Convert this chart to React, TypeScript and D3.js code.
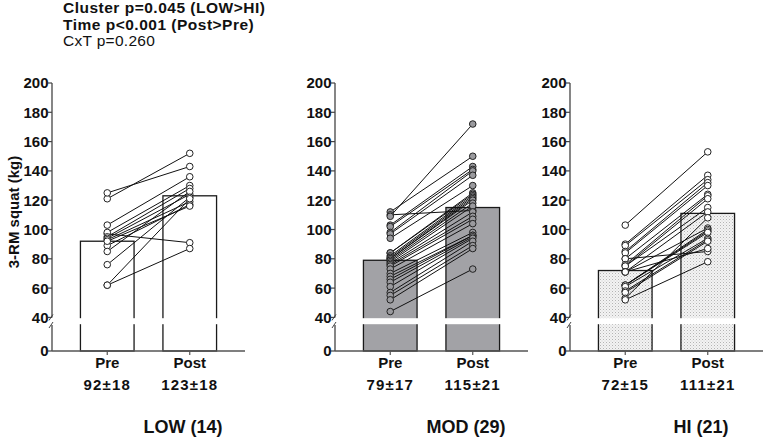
import React from "react";
import * as d3 from "d3";

const categories = ["Pre", "Post"];
const clusterLabels = ["LOW (14)", "MOD (29)", "HI (21)"];
const headerLines = ["Cluster p=0.045 (LOW>HI)", "Time p<0.001 (Post>Pre)", "CxT p=0.260"];
const yTicks = [200, 180, 160, 140, 120, 100, 80, 60, 40];

const meanPre = [92, 79, 72];
const meanPost = [123, 115, 111];
const sdPre = [18, 17, 15];
const sdPost = [18, 21, 21];

const lowPre = [121, 125, 103, 97, 98, 95, 94, 93, 89, 85, 76, 62, 62, 92];
const lowPost = [152, 143, 136, 91, 130, 128, 124, 119, 117, 126, 122, 87, 121, 116];

const modPre = [112, 110, 109, 103, 102, 98, 97, 94, 84, 84, 82, 81, 80, 80, 79, 78, 77, 76, 75, 73, 70, 68, 66, 64, 61, 57, 55, 52, 44];
const modPost = [150, 113, 172, 143, 141, 140, 137, 130, 125, 124, 123, 122, 121, 120, 118, 116, 112, 109, 107, 104, 98, 96, 96, 95, 94, 92, 89, 87, 73];

const hiPre = [103, 90, 89, 85, 84, 80, 80, 76, 75, 75, 71, 71, 71, 62, 62, 62, 61, 58, 57, 53, 52];
const hiPost = [153, 137, 134, 132, 130, 124, 85, 123, 121, 115, 112, 87, 101, 100, 99, 98, 94, 93, 92, 108, 78];

const preSets = [lowPre, modPre, hiPre];
const postSets = [lowPost, modPost, hiPost];

const FONT = "'Liberation Sans', Arial, Helvetica, sans-serif";
const axisX = [52, 335, 570];
const barFill = ["#ffffff", "#a2a2a6", "url(#dots)"];
const pointFill = ["#ffffff", "#9a9a9e", "#ffffff"];

export default function App() {
  const yUpper = d3.scaleLinear().domain([40, 200]).range([317.4, 83]);
  const yLower = d3.scaleLinear().domain([0, 20]).range([351, 325]);
  const xBand = d3
    .scaleBand()
    .domain(categories)
    .range([14, 179])
    .paddingInner(0.35)
    .paddingOuter(0.175);
  const bw = xBand.bandwidth();
  const axisLen = 193;

  return (
    <svg
      width={764}
      height={437}
      style={{ position: "absolute", left: 0, top: 0, background: "#fff" }}
      fontFamily={FONT}
    >
      <defs>
        <pattern id="dots" width={3} height={3} patternUnits="userSpaceOnUse">
          <rect width={3} height={3} fill="#f3f3f3" />
          <rect x={0} y={0} width={1} height={1} fill="#b4b4b4" />
          <rect x={1.5} y={1.5} width={1} height={1} fill="#cfcfcf" />
        </pattern>
      </defs>
      <rect width={764} height={437} fill="#fff" />

      {headerLines.map((t, i) => (
        <text
          key={t}
          x={63}
          y={13 + i * 16.5}
          fontSize={15.5}
          letterSpacing={i < 2 ? 0.5 : 0.3}
          fontWeight={i < 2 ? "bold" : "normal"}
          fill="#111"
        >
          {t}
        </text>
      ))}

      <text
        transform={`translate(19,212) rotate(-90)`}
        textAnchor="middle"
        fontSize={15}
        fontWeight="bold"
        fill="#111"
      >
        3-RM squat (kg)
      </text>

      {clusterLabels.map((label, p) => {
        const x0 = axisX[p];
        const means = [meanPre[p], meanPost[p]];
        const sds = [sdPre[p], sdPost[p]];
        const pre = preSets[p];
        const post = postSets[p];
        const xc = (c: string) => x0 + (xBand(c) as number) + bw / 2;
        const gapTop = yUpper(40);
        const gapBot = yLower(20);
        return (
          <g key={label}>
            {categories.map((c, i) => (
              <rect
                key={c}
                x={x0 + (xBand(c) as number)}
                y={yUpper(means[i])}
                width={bw}
                height={yLower(0) - yUpper(means[i])}
                fill={barFill[p]}
                stroke="#1a1a1a"
                strokeWidth={1.3}
              />
            ))}
            <rect x={x0 - 4} y={gapTop + 0.8} width={axisLen + 6} height={gapBot - gapTop - 1.6} fill="#fff" />
            <line x1={x0} x2={x0} y1={yUpper(200)} y2={gapTop} stroke="#444" strokeWidth={1.3} />
            <line x1={x0} x2={x0} y1={gapBot} y2={yLower(0)} stroke="#444" strokeWidth={1.3} />
            <line x1={x0 - 3} y1={gapTop + 3} x2={x0 + 1} y2={gapTop - 3} stroke="#444" strokeWidth={1} />
            <line x1={x0 - 3} y1={gapBot + 3} x2={x0 + 1} y2={gapBot - 3} stroke="#444" strokeWidth={1} />
            {yTicks.map((t) => (
              <g key={t}>
                <line x1={x0 - 4} x2={x0} y1={yUpper(t)} y2={yUpper(t)} stroke="#444" strokeWidth={1.2} />
                <text
                  x={x0 - 3.5}
                  y={yUpper(t)}
                  dy="0.36em"
                  textAnchor="end"
                  fontSize={15}
                  fontWeight="bold"
                  fill="#111"
                >
                  {t}
                </text>
              </g>
            ))}
            <line x1={x0 - 4} x2={x0} y1={yLower(0)} y2={yLower(0)} stroke="#444" strokeWidth={1.2} />
            <text x={x0 - 3.5} y={yLower(0)} dy="0.36em" textAnchor="end" fontSize={15} fontWeight="bold" fill="#111">
              0
            </text>
            <line x1={x0} x2={x0 + axisLen} y1={yLower(0)} y2={yLower(0)} stroke="#555" strokeWidth={1.5} />
            {categories.map((c, i) => (
              <g key={c}>
                <line x1={xc(c)} x2={xc(c)} y1={yLower(0)} y2={yLower(0) + 4} stroke="#555" strokeWidth={1.2} />
                <text x={xc(c)} y={368} textAnchor="middle" fontSize={15} fontWeight="bold" fill="#111">
                  {c}
                </text>
                <text
                  x={xc(c)}
                  y={390}
                  textAnchor="middle"
                  fontSize={15}
                  letterSpacing={1.2}
                  fontWeight="bold"
                  fill="#111"
                >
                  {`${means[i]}\u00B1${sds[i]}`}
                </text>
              </g>
            ))}
            {pre.map((v, k) => (
              <line
                key={k}
                x1={xc("Pre")}
                y1={yUpper(v)}
                x2={xc("Post")}
                y2={yUpper(post[k])}
                stroke="#111"
                strokeWidth={1}
              />
            ))}
            {pre.map((v, k) => (
              <circle key={"a" + k} cx={xc("Pre")} cy={yUpper(v)} r={3.3} fill={pointFill[p]} stroke="#222" strokeWidth={1} />
            ))}
            {post.map((v, k) => (
              <circle key={"b" + k} cx={xc("Post")} cy={yUpper(v)} r={3.3} fill={pointFill[p]} stroke="#222" strokeWidth={1} />
            ))}
            <text
              x={(xc("Pre") + xc("Post")) / 2 + 34.5}
              y={433}
              textAnchor="middle"
              fontSize={18}
              fontWeight="bold"
              fill="#111"
            >
              {label}
            </text>
          </g>
        );
      })}
    </svg>
  );
}
